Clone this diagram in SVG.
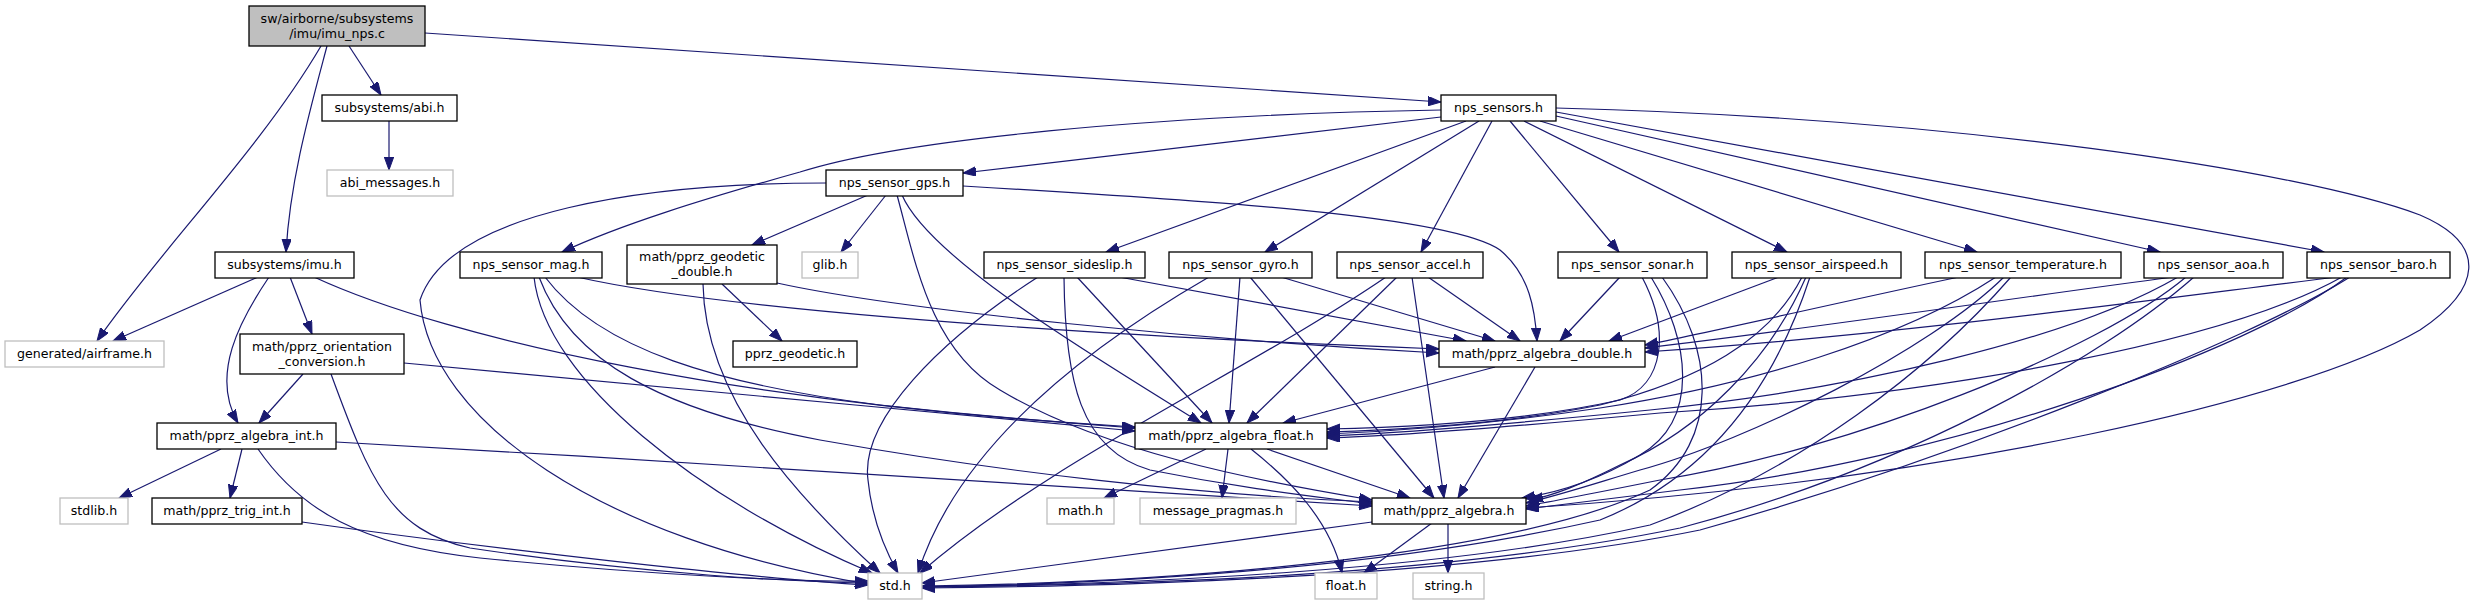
<svg xmlns="http://www.w3.org/2000/svg" width="2479" height="604" viewBox="0 0 2479 604">
<defs>
<marker id="a" markerWidth="14" markerHeight="10" refX="13" refY="4.7" orient="auto" markerUnits="userSpaceOnUse">
<path d="M0,0 L13,4.7 L0,9.4 z" fill="#191970" stroke="#191970" stroke-width="1"/>
</marker>
<style>
rect{fill:#fff;stroke:#000;stroke-width:1.3}
.g rect{stroke:#bfbfbf}
#root rect{fill:#bfbfbf}
text{font-family:"DejaVu Sans","Liberation Sans",sans-serif;font-size:12.6px;text-anchor:middle;fill:#000}
#edges path{fill:none;stroke:#191970;stroke-width:1.2;marker-end:url(#a)}
</style>
</defs>
<rect x="0" y="0" width="2479" height="604" style="fill:#fff;stroke:none"/>
<g id="edges">
<path d="M349,46 L381,95"/>
<path d="M327,46 C310,110 290,180 286,252"/>
<path d="M321,46 C260,150 160,250 97,341"/>
<path d="M425,33 L1441,102"/>
<path d="M389,121 L389,170"/>
<path d="M258,277 L113,341"/>
<path d="M290,277 L312,334"/>
<path d="M269,277 C240,320 210,375 238,423"/>
<path d="M314,277 C450,340 750,405 1135,427"/>
<path d="M303,374 L259,423"/>
<path d="M331,374 C370,480 390,530 470,548 C650,575 800,582 868,583"/>
<path d="M404,363 C600,380 900,410 1135,431"/>
<path d="M221,449 L119,498"/>
<path d="M242,449 L230,498"/>
<path d="M336,442 C700,462 1100,490 1372,506"/>
<path d="M258,449 C300,510 360,545 480,558 C650,575 800,582 868,581"/>
<path d="M302,522 C500,550 750,578 868,585"/>
<path d="M1441,117 L963,173"/>
<path d="M1441,110 C1150,115 900,140 800,172 C700,200 620,225 562,252"/>
<path d="M1466,121 L1106,252"/>
<path d="M1479,121 L1265,252"/>
<path d="M1492,121 L1421,252"/>
<path d="M1510,121 L1619,252"/>
<path d="M1524,121 L1787,252"/>
<path d="M1540,121 L1977,252"/>
<path d="M1556,116 L2160,252"/>
<path d="M1556,112 L2324,252"/>
<path d="M1556,108 C1950,118 2300,170 2420,215 C2490,245 2480,290 2420,330 C2300,400 1950,480 1526,508"/>
<path d="M534,277 C545,380 700,500 872,573"/>
<path d="M539,277 C570,360 660,410 820,440 C1000,472 1200,495 1372,502"/>
<path d="M545,277 C600,350 720,385 880,405 C1000,418 1080,424 1135,428"/>
<path d="M577,277 C700,305 1000,332 1439,349"/>
<path d="M722,284 L782,341"/>
<path d="M703,284 C705,400 800,500 880,573"/>
<path d="M777,283 C900,310 1200,340 1439,353"/>
<path d="M826,183 C650,183 450,210 420,300 C430,420 600,540 868,584"/>
<path d="M886,195 L841,252"/>
<path d="M868,195 L752,245"/>
<path d="M902,195 C930,260 1100,360 1201,423"/>
<path d="M897,195 C915,260 930,350 1000,390 C1100,450 1250,480 1372,500"/>
<path d="M963,186 C1200,200 1450,215 1500,250 C1530,275 1535,310 1537,341"/>
<path d="M1038,277 C940,340 860,420 868,480 C872,520 885,550 898,573"/>
<path d="M1064,277 C1065,380 1080,450 1150,470 C1250,490 1320,497 1372,504"/>
<path d="M1077,277 L1212,423"/>
<path d="M1119,277 L1466,341"/>
<path d="M1209,277 C1100,340 960,440 918,573"/>
<path d="M1240,277 L1229,423"/>
<path d="M1250,277 L1434,498"/>
<path d="M1281,277 L1495,341"/>
<path d="M1386,277 C1250,370 1050,460 920,573"/>
<path d="M1397,277 L1247,423"/>
<path d="M1412,277 L1444,498"/>
<path d="M1428,277 L1520,341"/>
<path d="M1620,277 L1560,341"/>
<path d="M1642,277 C1670,330 1665,385 1620,400 C1530,420 1420,427 1327,429"/>
<path d="M1651,277 C1690,340 1700,420 1640,455 C1590,485 1550,494 1522,498"/>
<path d="M1662,277 C1715,350 1720,440 1650,490 C1500,560 1150,583 922,586"/>
<path d="M1779,277 L1609,341"/>
<path d="M1802,277 C1770,340 1700,380 1600,405 C1500,425 1400,430 1327,432"/>
<path d="M1806,277 C1770,360 1700,430 1620,465 C1580,485 1555,495 1530,500"/>
<path d="M1810,277 C1770,400 1700,480 1600,520 C1400,565 1150,583 922,587"/>
<path d="M1959,277 C1850,300 1720,330 1645,345"/>
<path d="M1996,277 C1900,340 1750,385 1600,408 C1500,423 1400,431 1327,434"/>
<path d="M2004,277 C1930,350 1750,440 1640,470 C1590,485 1560,495 1526,503"/>
<path d="M2011,277 C1930,370 1800,470 1650,525 C1450,570 1150,584 922,587"/>
<path d="M2173,277 C2000,300 1800,330 1645,348"/>
<path d="M2178,277 C2070,340 1850,390 1650,410 C1500,425 1400,433 1327,436"/>
<path d="M2186,277 C2100,350 1850,450 1660,480 C1600,492 1560,500 1526,506"/>
<path d="M2194,277 C2100,360 1900,470 1680,528 C1450,575 1150,585 922,587"/>
<path d="M2337,277 C2150,300 1900,335 1645,352"/>
<path d="M2342,277 C2230,340 1950,395 1660,413 C1500,428 1400,436 1327,438"/>
<path d="M2347,277 C2250,350 1950,460 1680,490 C1600,500 1560,505 1526,509"/>
<path d="M2350,277 C2250,340 1950,460 1700,530 C1480,575 1150,586 922,588"/>
<path d="M1495,367 L1283,423"/>
<path d="M1535,367 L1458,498"/>
<path d="M1206,449 L1104,498"/>
<path d="M1228,449 L1222,498"/>
<path d="M1251,449 C1290,480 1330,520 1342,573"/>
<path d="M1267,449 L1410,498"/>
<path d="M1372,522 L922,583"/>
<path d="M1432,523 L1364,573"/>
<path d="M1448,523 L1448,573"/>
</g>
<g id="root"><rect x="249" y="6" width="176" height="40"/><text x="337" y="22.5">sw/airborne/subsystems</text><text x="337" y="37.5">/imu/imu_nps.c</text></g>
<g id="abi"><rect x="322" y="95" width="135" height="26"/><text x="389.5" y="111.5">subsystems/abi.h</text></g>
<g id="abi_messages" class="g"><rect x="327" y="170" width="126" height="26"/><text x="390" y="186.5">abi_messages.h</text></g>
<g id="imu"><rect x="215" y="252" width="139" height="26"/><text x="284.5" y="268.5">subsystems/imu.h</text></g>
<g id="airframe" class="g"><rect x="5" y="341" width="159" height="26"/><text x="84.5" y="357.5">generated/airframe.h</text></g>
<g id="orient"><rect x="240" y="334" width="164" height="40"/><text x="322" y="350.5">math/pprz_orientation</text><text x="322" y="365.5">_conversion.h</text></g>
<g id="alg_int"><rect x="157" y="423" width="179" height="26"/><text x="246.5" y="439.5">math/pprz_algebra_int.h</text></g>
<g id="stdlib" class="g"><rect x="60" y="498" width="68" height="26"/><text x="94" y="514.5">stdlib.h</text></g>
<g id="trig_int"><rect x="152" y="498" width="150" height="26"/><text x="227" y="514.5">math/pprz_trig_int.h</text></g>
<g id="mag"><rect x="460" y="252" width="142" height="26"/><text x="531" y="268.5">nps_sensor_mag.h</text></g>
<g id="geod_double"><rect x="627" y="245" width="150" height="39"/><text x="702" y="261">math/pprz_geodetic</text><text x="702" y="276">_double.h</text></g>
<g id="geodetic"><rect x="733" y="341" width="124" height="26"/><text x="795" y="357.5">pprz_geodetic.h</text></g>
<g id="glib" class="g"><rect x="802" y="252" width="56" height="26"/><text x="830" y="268.5">glib.h</text></g>
<g id="gps"><rect x="826" y="170" width="137" height="26"/><text x="894.5" y="186.5">nps_sensor_gps.h</text></g>
<g id="sideslip"><rect x="984" y="252" width="161" height="26"/><text x="1064.5" y="268.5">nps_sensor_sideslip.h</text></g>
<g id="gyro"><rect x="1169" y="252" width="143" height="26"/><text x="1240.5" y="268.5">nps_sensor_gyro.h</text></g>
<g id="accel"><rect x="1337" y="252" width="146" height="26"/><text x="1410" y="268.5">nps_sensor_accel.h</text></g>
<g id="sonar"><rect x="1558" y="252" width="149" height="26"/><text x="1632.5" y="268.5">nps_sensor_sonar.h</text></g>
<g id="airspeed"><rect x="1732" y="252" width="169" height="26"/><text x="1816.5" y="268.5">nps_sensor_airspeed.h</text></g>
<g id="temperature"><rect x="1925" y="252" width="196" height="26"/><text x="2023" y="268.5">nps_sensor_temperature.h</text></g>
<g id="aoa"><rect x="2144" y="252" width="139" height="26"/><text x="2213.5" y="268.5">nps_sensor_aoa.h</text></g>
<g id="baro"><rect x="2307" y="252" width="143" height="26"/><text x="2378.5" y="268.5">nps_sensor_baro.h</text></g>
<g id="sensors"><rect x="1441" y="95" width="115" height="26"/><text x="1498.5" y="111.5">nps_sensors.h</text></g>
<g id="alg_double"><rect x="1439" y="341" width="206" height="26"/><text x="1542" y="357.5">math/pprz_algebra_double.h</text></g>
<g id="alg_float"><rect x="1135" y="423" width="192" height="26"/><text x="1231" y="439.5">math/pprz_algebra_float.h</text></g>
<g id="math" class="g"><rect x="1047" y="498" width="67" height="26"/><text x="1080.5" y="514.5">math.h</text></g>
<g id="msg_pragmas" class="g"><rect x="1140" y="498" width="156" height="26"/><text x="1218" y="514.5">message_pragmas.h</text></g>
<g id="alg"><rect x="1372" y="498" width="154" height="26"/><text x="1449" y="514.5">math/pprz_algebra.h</text></g>
<g id="std" class="g"><rect x="868" y="573" width="54" height="26"/><text x="895" y="589.5">std.h</text></g>
<g id="float" class="g"><rect x="1315" y="573" width="62" height="26"/><text x="1346" y="589.5">float.h</text></g>
<g id="string" class="g"><rect x="1413" y="573" width="71" height="26"/><text x="1448.5" y="589.5">string.h</text></g>
</svg>
